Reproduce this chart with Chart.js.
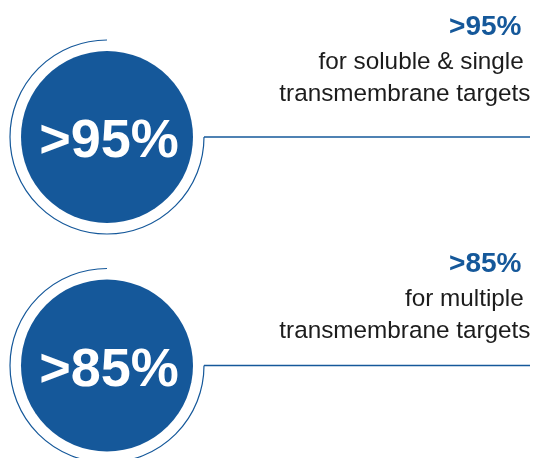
<!DOCTYPE html>
<html>
<head>
<meta charset="utf-8">
<script src="https://cdn.jsdelivr.net/npm/chart.js@4/dist/chart.umd.min.js"></script>
<style>
  html, body { margin: 0; padding: 0; background: #ffffff; }
  #wrap { width: 534px; height: 458px; position: relative; }
</style>
</head>
<body>
<div id="wrap"><canvas id="c" width="534" height="458"></canvas></div>
<script>
// ---- data ----
const categories = ['soluble & single transmembrane', 'multiple transmembrane'];
const values = [95, 85];
const valuePrefix = '>';
const valueSuffix = '%';
const descLine1 = ['for soluble & single ', 'for multiple '];
const descLine2 = ['transmembrane targets', 'transmembrane targets'];

// ---- layout / style ----
const BLUE = '#15589a';
const TEXT = '#1c1c1c';
const FONT = "'Liberation Sans', Arial, Helvetica, sans-serif";
const ringRadius = 97;
const textTopOffset = [-102, -94];

const label = (i) => valuePrefix + values[i] + valueSuffix;

const decoPlugin = {
  id: 'deco',
  afterDatasetsDraw(chart) {
    const ctx = chart.ctx;
    const area = chart.chartArea;
    const meta = chart.getDatasetMeta(0);
    meta.data.forEach((el, i) => {
      const cx = el.x, cy = el.y;
      ctx.save();
      // outer ring (270 deg) + connector line
      ctx.strokeStyle = BLUE;
      ctx.lineWidth = 1.2;
      ctx.beginPath();
      ctx.arc(cx, cy, ringRadius, -Math.PI / 2, 0, true);
      ctx.stroke();
      ctx.lineWidth = 1.4;
      ctx.beginPath();
      ctx.moveTo(cx + ringRadius, cy);
      ctx.lineTo(area.right, cy);
      ctx.stroke();
      // big white value in circle
      ctx.fillStyle = '#ffffff';
      ctx.font = 'bold 54px ' + FONT;
      ctx.textAlign = 'center';
      ctx.textBaseline = 'alphabetic';
      ctx.fillText(label(i), cx + 2, cy + 20);
      // right-hand text block
      const top = cy + textTopOffset[i];
      ctx.textAlign = 'right';
      ctx.fillStyle = BLUE;
      ctx.font = 'bold 28px ' + FONT;
      ctx.fillText(label(i), area.right - 8.5, top);
      ctx.fillStyle = TEXT;
      ctx.font = '24.3px ' + FONT;
      ctx.fillText(descLine1[i], area.right + 0.5, top + 34);
      ctx.fillText(descLine2[i], area.right + 0.5, top + 66);
      ctx.restore();
    });
  }
};

new Chart(document.getElementById('c'), {
  type: 'bubble',
  data: {
    datasets: [{
      label: 'Success rate',
      data: categories.map((c) => ({ x: 0, y: c })),
      backgroundColor: BLUE,
      borderWidth: 0,
      radius: 86,
      hoverRadius: 0,
      clip: false
    }]
  },
  options: {
    responsive: false,
    animation: false,
    events: [],
    layout: { autoPadding: false, padding: { left: 107, right: 4, top: 137, bottom: 92.5 } },
    scales: {
      x: { type: 'linear', min: 0, max: 1, display: false },
      y: { type: 'category', labels: categories, offset: false, display: false }
    },
    plugins: { legend: { display: false }, tooltip: { enabled: false } }
  },
  plugins: [decoPlugin]
});
</script>
</body>
</html>
